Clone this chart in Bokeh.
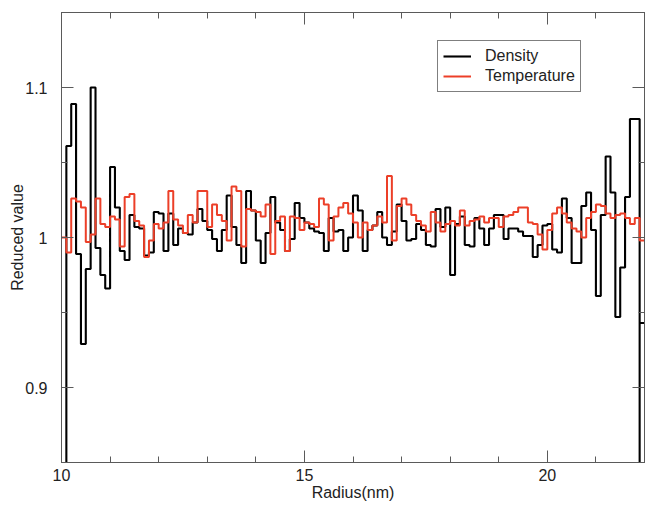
from bokeh.plotting import figure
from bokeh.models import Range1d, FixedTicker, LinearAxis, Legend, LegendItem
from bokeh.embed import file_html
from bokeh.resources import INLINE

# ---- data ----
bin_start = 10.0
bin_width = 0.1

density = [
    0.800, 1.061, 1.089, 0.989, 0.929, 0.979, 1.100, 0.993, 0.975, 0.966,
    1.047, 1.020, 0.991, 0.985, 1.015, 1.007, 1.006, 0.988, 0.990, 1.017,
    1.016, 0.991, 1.016, 0.995, 1.006, 1.003, 1.002, 1.010, 1.019, 1.011,
    1.005, 0.999, 0.991, 1.005, 1.028, 1.007, 0.995, 0.983, 1.031, 1.018,
    0.998, 0.983, 1.003, 1.027, 1.010, 1.005, 0.991, 0.999, 1.023, 1.013,
    1.010, 1.006, 1.004, 1.003, 0.991, 1.013, 1.004, 1.005, 0.991, 1.000,
    1.028, 1.018, 0.991, 1.005, 1.008, 1.017, 1.000, 0.995, 1.004, 1.022,
    1.011, 0.998, 0.999, 1.009, 1.005, 0.995, 0.994, 1.019, 1.007, 1.020,
    0.975, 1.009, 1.014, 0.995, 0.994, 1.013, 1.006, 0.995, 1.006, 1.015,
    1.015, 0.999, 1.006, 1.006, 1.004, 1.001, 1.001, 0.987, 0.995, 1.008,
    1.009, 0.992, 0.990, 1.026, 1.013, 0.983, 0.983, 1.021, 1.030, 1.005,
    0.961, 1.015, 1.054, 1.030, 0.947, 0.980, 1.027, 1.079, 1.079, 0.943,
]
density_edge_drop = 0.800   # sharp dip just before the last bin

temperature = [
    1.000, 0.990, 1.026, 1.024, 1.020, 0.997, 1.002, 1.026, 1.009, 1.007,
    1.014, 1.012, 0.994, 1.027, 1.029, 1.011, 1.008, 0.987, 0.998, 1.009,
    1.006, 1.010, 1.031, 1.012, 1.008, 1.003, 1.015, 1.010, 1.031, 1.031,
    1.007, 1.022, 1.015, 1.011, 0.998, 1.034, 1.031, 0.994, 1.019, 1.018,
    1.017, 1.014, 1.022, 0.989, 1.011, 1.014, 0.991, 1.014, 1.013, 1.005,
    1.010, 1.009, 1.007, 1.026, 1.022, 0.998, 1.014, 1.020, 1.023, 1.016,
    1.010, 1.000, 1.010, 1.005, 1.008, 1.014, 1.010, 1.041, 0.998, 1.021,
    1.026, 1.022, 1.015, 1.011, 1.008, 1.004, 1.017, 1.010, 1.004, 1.009,
    1.011, 1.008, 1.018, 1.008, 1.011, 1.012, 1.014, 1.010, 1.013, 1.013,
    1.007, 1.014, 1.015, 1.017, 1.020, 1.020, 1.010, 1.009, 1.002, 0.992,
    1.005, 1.016, 1.020, 1.016, 1.010, 1.006, 1.004, 1.000, 1.013, 1.017,
    1.022, 1.021, 1.016, 1.013, 1.015, 1.016, 1.013, 1.009, 1.013, 0.998,
]

x_ticks = [10, 15, 20]
x_minor = list(range(10, 23))
y_ticks = [0.9, 1.0, 1.1]
y_minor = [0.85, 0.9, 0.95, 1.0, 1.05, 1.1, 1.15]
y_labels = {0.9: "0.9", 1.0: "1", 1.1: "1.1"}
series_names = ["Density", "Temperature"]

# ---- build step coordinates ----
n = len(density)
edges = [round(bin_start + bin_width * i, 6) for i in range(n + 1)]

dens_x = edges[:n - 1] + [edges[n - 1]] + edges[n - 1:]
dens_y = density[:n - 1] + [density_edge_drop] + density[n - 1:] + [density[-1]]

temp_x = edges
temp_y = temperature + [temperature[-1]]

FONT = "Liberation Sans"
AXIS_COLOR = "#5a5a5a"

p = figure(width=645, height=506, output_backend="svg", toolbar_location=None,
           x_range=Range1d(10, 22), y_range=Range1d(0.85, 1.15),
           min_border_left=61, min_border_right=1, min_border_top=12,
           min_border_bottom=44)
p.background_fill_color = "white"
p.border_fill_color = "white"
p.outline_line_color = AXIS_COLOR
p.outline_line_width = 1
p.grid.visible = False

r_dens = p.step(dens_x, dens_y, mode="after", line_color="black", line_width=2.1)
r_temp = p.step(temp_x, temp_y, mode="after", line_color="#ec3f28", line_width=2.0)

def style_axis(ax, show_labels):
    ax.axis_line_color = AXIS_COLOR
    ax.major_tick_line_color = AXIS_COLOR
    ax.minor_tick_line_color = AXIS_COLOR
    ax.major_tick_in = 12
    ax.major_tick_out = 0
    ax.minor_tick_in = 6
    ax.minor_tick_out = 0
    ax.major_label_text_font = FONT
    ax.major_label_text_font_size = "16px"
    ax.major_label_text_color = "#222222" if show_labels else None
    ax.axis_label_text_font = FONT
    ax.axis_label_text_font_size = "16px"
    ax.axis_label_text_font_style = "normal"
    ax.axis_label_text_color = "#222222"

xt = FixedTicker(ticks=x_ticks, minor_ticks=x_minor)
yt = FixedTicker(ticks=y_ticks, minor_ticks=y_minor)

p.xaxis.ticker = xt
p.yaxis.ticker = yt
p.yaxis.major_label_overrides = y_labels
p.xaxis.axis_label = "Radius(nm)"
p.yaxis.axis_label = "Reduced value"
style_axis(p.xaxis[0], True)
style_axis(p.yaxis[0], True)
p.xaxis.major_label_standoff = 6
p.xaxis.axis_label_standoff = 0
p.yaxis.major_label_standoff = 14
p.yaxis.axis_label_standoff = -4

top = LinearAxis(ticker=FixedTicker(ticks=x_ticks, minor_ticks=x_minor))
style_axis(top, False)
top.major_label_text_font_size = "0px"
top.major_label_standoff = 0
p.add_layout(top, "above")
right = LinearAxis(ticker=FixedTicker(ticks=y_ticks, minor_ticks=y_minor))
style_axis(right, False)
right.major_label_text_font_size = "0px"
right.major_label_standoff = 0
p.add_layout(right, "right")

legend = Legend(items=[LegendItem(label=series_names[0], renderers=[r_dens]),
                       LegendItem(label=series_names[1], renderers=[r_temp])],
                location=(376, 370))
legend.label_text_font = FONT
legend.label_text_font_size = "16px"
legend.label_text_color = "#222222"
legend.border_line_color = "black"
legend.border_line_width = 1
legend.background_fill_color = "white"
legend.glyph_width = 28
legend.glyph_height = 20
legend.label_standoff = 14
legend.label_height = 20
legend.padding = 5
legend.spacing = 0
legend.margin = 0
p.add_layout(legend, "center")

open("out.html", "w").write(file_html(p, INLINE))
